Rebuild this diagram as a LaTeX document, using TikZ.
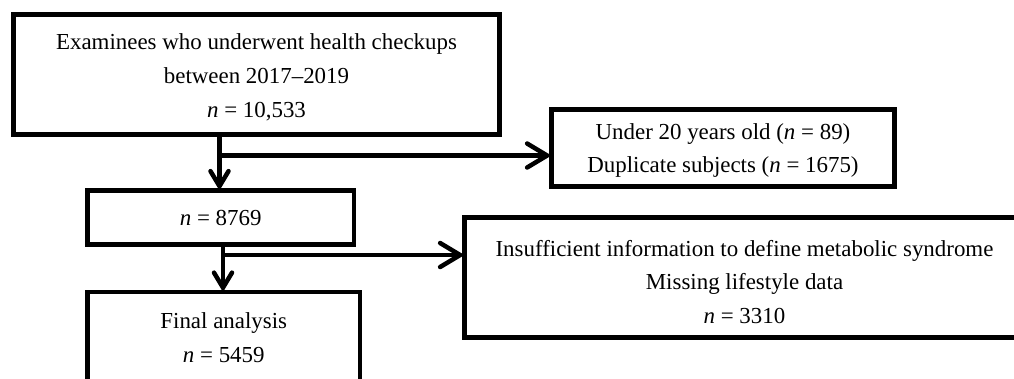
\documentclass[tikz,border=0pt]{standalone}
\usepackage{fontspec}
\setmainfont{Liberation Serif}
\usetikzlibrary{arrows.meta}
\tikzset{
  box/.style={draw, line width=4.5bp, inner sep=0pt, outer sep=0pt},
  txt/.style={align=center, inner sep=0pt, font=\fontsize{23}{34}\selectfont},
  harrow/.style={line width=4.5bp, -{Straight Barb[length=20bp,width=24bp,line cap=round]}},
  varrow/.style={line width=4.5bp, -{Straight Barb[length=15bp,width=18bp,line cap=round]}}
}
\begin{document}
\begin{tikzpicture}[x=1bp,y=-1bp]
\useasboundingbox (0,0) rectangle (1014,378);
% boxes
\node[box, minimum width=486bp, minimum height=120bp] (b1) at (256.5,74.5) {};
\node[box, minimum width=266.5bp, minimum height=54bp] (b2) at (220.75,217.5) {};
\node[box, minimum width=343bp, minimum height=77bp] (ex1) at (723,148) {};
\node[box, minimum width=560bp, minimum height=120bp] (ex2) at (744.5,277.5) {};
\node[box, minimum width=272.5bp, minimum height=120bp] (fin) at (223.75,352) {};
% texts
\node[txt] (t1) at (256.5,77) {Examinees who underwent health checkups\\ between 2017--2019\\ \textit{n} = 10,533};
\node[txt] (t2) at (220.75,218) {\textit{n} = 8769};
\node[txt] (t3) at (723,150.5) {Under 20 years old (\textit{n} = 89)\\ Duplicate subjects (\textit{n} = 1675)};
\node[txt] (t4) at (744.5,282) {Insufficient information to define metabolic syndrome\\ Missing lifestyle data\\ \textit{n} = 3310};
\node[txt] (t5) at (223.75,337.5) {Final analysis\\ \textit{n} = 5459};
% connectors
\coordinate (j1) at (219.5,155.5);
\coordinate (j2) at (223,255);
\draw[varrow] (b1.south -| j1) -- (b2.north -| j1);
\draw[harrow] (j1) -- (j1 -| ex1.west);
\draw[varrow] (b2.south -| j2) -- (fin.north -| j2);
\draw[harrow] (j2) -- (j2 -| ex2.west);
\end{tikzpicture}
\end{document}
